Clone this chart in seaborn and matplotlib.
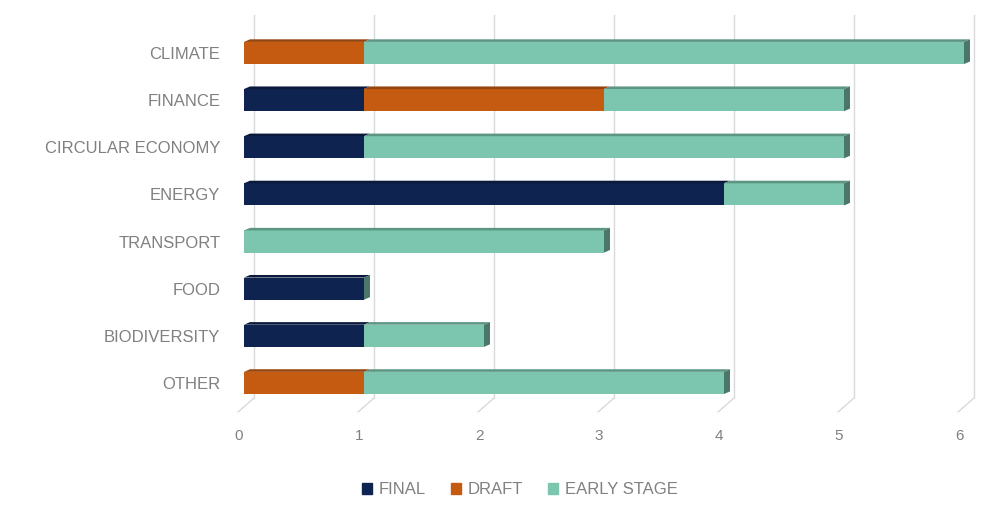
import matplotlib
matplotlib.use("Agg")
import matplotlib.pyplot as plt
import matplotlib.transforms as mtransforms
import matplotlib.colors as mcolors
from matplotlib.patches import Polygon
import seaborn as sns
import pandas as pd
import numpy as np

categories = ["CLIMATE", "FINANCE", "CIRCULAR ECONOMY", "ENERGY",
              "TRANSPORT", "FOOD", "BIODIVERSITY", "OTHER"]
final = [0, 1, 1, 4, 0, 1, 1, 0]
draft = [1, 2, 0, 0, 0, 0, 0, 1]
early = [5, 2, 4, 1, 3, 0, 1, 3]
series_names = ["FINAL", "DRAFT", "EARLY STAGE"]
colors = ["#0F2350", "#C55A11", "#7CC6AF"]
xticks = [0, 1, 2, 3, 4, 5, 6]

sns.set_theme(style="white")
plt.rcParams['font.family'] = ['Liberation Sans', 'DejaVu Sans']

W, H = 1008, 516
fig = plt.figure(figsize=(W/100, H/100), dpi=100)
ax = fig.add_axes([244/W, 1-398/H, 720/W, (398-15)/H])

df = pd.DataFrame({"category": categories, "FINAL": final, "DRAFT": draft, "EARLY STAGE": early})
txt = "#808080"
grid_col = "#D9D9D9"

cum = np.zeros(len(categories))
handles = []
seg_info = []
for name, col in zip(series_names, colors):
    vals = df[name].values
    sns.barplot(x=vals, y=df["category"], left=cum, color=col, orient="h",
                width=0.47, ax=ax, edgecolor="none", linewidth=0, saturation=1, zorder=2)
    for i, v in enumerate(vals):
        if v > 0:
            seg_info.append((i, cum[i], cum[i] + v, col))
    cum = cum + vals
    handles.append(plt.Rectangle((0, 0), 1, 1, color=col))

ax.set_xlim(0, 6)
ax.set_ylim(7.32, -0.806)

# gridlines with 3D back-wall offset and floor diagonals
bt = mtransforms.blended_transform_factory(ax.transData, ax.transAxes)
px_x = 6 / 720.0
px_y = 1 / 383.0
for xv in xticks:
    ax.plot([xv + 10*px_x, xv + 10*px_x], [0, 1], transform=bt, color=grid_col, lw=1.0,
            zorder=0, clip_on=False)
    ax.plot([xv - 6*px_x, xv + 10*px_x], [-14*px_y, 0], transform=bt, color=grid_col, lw=1.0,
            zorder=0, clip_on=False)

def darker(c, f):
    r, g, b = mcolors.to_rgb(c)
    return (r*f, g*f, b*f)

d = 6 / 120.0
h = 0.055
for (i, l, r, col) in seg_info:
    y0 = i - 0.235
    top = Polygon([[l, y0], [l + d, y0 - h], [r + d, y0 - h], [r, y0]], closed=True,
                  facecolor=darker(col, 0.75), edgecolor="none", zorder=2.5, clip_on=False)
    ax.add_patch(top)
for i, tot in enumerate(cum):
    if tot <= 0:
        continue
    y0, y1 = i - 0.235, i + 0.235
    side = Polygon([[tot, y0], [tot + d, y0 - h], [tot + d, y1 - h], [tot, y1]], closed=True,
                   facecolor=darker(colors[2], 0.6), edgecolor="none", zorder=3, clip_on=False)
    ax.add_patch(side)

ax.set_xticks(xticks)
ax.set_xticklabels([str(v) for v in xticks], color=txt, fontsize=11)
ax.tick_params(axis="x", pad=22, length=0)
shift = mtransforms.ScaledTranslation(-5/100, 0, fig.dpi_scale_trans)
for lab in ax.get_xticklabels():
    lab.set_transform(lab.get_transform() + shift)
ax.set_yticks(range(len(categories)))
ax.set_yticklabels(categories, color=txt, fontsize=12)
ax.tick_params(axis="y", pad=17, length=0)
ax.set_xlabel("")
ax.set_ylabel("")
for s in ax.spines.values():
    s.set_visible(False)
ax.grid(False)

fig.legend(handles, series_names, loc="center", bbox_to_anchor=(520/W, 1-490/H), ncol=3,
           frameon=False, fontsize=12, labelcolor=txt, handlelength=0.6, handleheight=0.6,
           handletextpad=0.4, columnspacing=1.5)

fig.savefig("out.png", dpi=100)
